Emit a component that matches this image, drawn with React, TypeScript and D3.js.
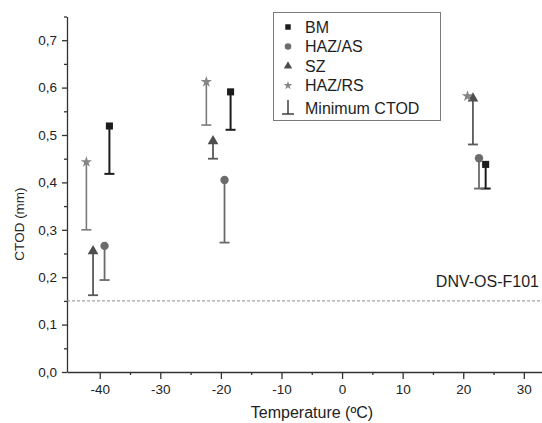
import React, { useRef, useEffect } from 'react'
import * as d3 from 'd3'

// CTOD values (mm) against test temperature (ºC)
const seriesNames = ['BM', 'HAZ/AS', 'SZ', 'HAZ/RS']
const bmTemp = [-38.4, -18.4, 23.7]
const bmCtod = [0.519, 0.591, 0.438]
const bmMin = [0.418, 0.511, 0.387]
const hazAsTemp = [-39.2, -19.4, 22.6]
const hazAsCtod = [0.266, 0.405, 0.451]
const hazAsMin = [0.194, 0.273, 0.387]
const szTemp = [-41.1, -21.3, 21.6]
const szCtod = [0.255, 0.487, 0.577]
const szMin = [0.162, 0.45, 0.48]
const hazRsTemp = [-42.2, -22.4, 20.7]
const hazRsCtod = [0.443, 0.612, 0.582]
const hazRsMin = [0.3, 0.521, null]
const xTicks = [-40, -30, -20, -10, 0, 10, 20, 30]
const xMinorTicks = [-35, -25, -15, -5, 5, 15, 25]
const yTicks = [0, 0.1, 0.2, 0.3, 0.4, 0.5, 0.6, 0.7]
const yMinorTicks = [0.05, 0.15, 0.25, 0.35, 0.45, 0.55, 0.65, 0.75]
const limitValue = 0.15
const limitLabel = 'DNV-OS-F101'

const FONT = '"Liberation Sans", Arial, Helvetica, sans-serif'

const App = () => {
    const svgRef = useRef<SVGSVGElement>(null)

    useEffect(() => {
        document.body.style.margin = '0'
        const svg = d3.select(svgRef.current)
        svg.selectAll('*').remove()

        const x = d3.scaleLinear().domain([-45.4, 33]).range([67, 542])
        const y = d3.scaleLinear().domain([0, 0.75]).range([372, 16.5])

        const series = [
            { name: seriesNames[0], temp: bmTemp, ctod: bmCtod, min: bmMin, shape: d3.symbolSquare, size: 50, color: '#1c1c1c', line: '#1c1c1c', lw: 2 },
            { name: seriesNames[1], temp: hazAsTemp, ctod: hazAsCtod, min: hazAsMin, shape: d3.symbolCircle, size: 55, color: '#6c6c6c', line: '#6a6a6a', lw: 1.8 },
            { name: seriesNames[2], temp: szTemp, ctod: szCtod, min: szMin, shape: d3.symbolTriangle, size: 50, color: '#4e4e4e', line: '#5a5a5a', lw: 1.8 },
            { name: seriesNames[3], temp: hazRsTemp, ctod: hazRsCtod, min: hazRsMin, shape: d3.symbolStar, size: 40, color: '#858585', line: '#7a7a7a', lw: 1.6 },
        ]

        //x axis
        const gx = svg.append('g').attr('transform', `translate(0, ${y(0)})`)
        gx.call(
            d3.axisBottom(x).tickValues(xTicks).tickSize(7).tickSizeOuter(0).tickPadding(5)
                .tickFormat((d) => String(d))
        )
        gx.append('g').call(d3.axisBottom(x).tickValues(xMinorTicks).tickSize(3).tickFormat(() => ''))
            .select('.domain').remove()
        gx.selectAll('text').style('font-size', '13.5px').style('font-family', FONT).attr('fill', '#222')
        gx.selectAll('path, line').attr('stroke', '#333').attr('stroke-width', 1.3)

        //y axis
        const gy = svg.append('g').attr('transform', `translate(${x.range()[0]}, 0)`)
        gy.call(
            d3.axisLeft(y).tickValues(yTicks).tickSize(5).tickSizeOuter(0).tickPadding(5)
                .tickFormat((d) => d3.format('.1f')(d as number).replace('.', ','))
        )
        gy.append('g').call(d3.axisLeft(y).tickValues(yMinorTicks).tickSize(3).tickFormat(() => ''))
            .select('.domain').remove()
        gy.selectAll('text').style('font-size', '13.5px').style('font-family', FONT).attr('fill', '#222')
        gy.selectAll('path, line').attr('stroke', '#333').attr('stroke-width', 1.3)

        //axis titles
        svg.append('text')
            .attr('x', 312).attr('y', 418)
            .attr('text-anchor', 'middle')
            .style('font-family', FONT).style('font-size', '16px').attr('fill', '#222')
            .text('Temperature (ºC)')
        svg.append('text')
            .attr('transform', `translate(24, ${224}) rotate(-90)`)
            .attr('text-anchor', 'middle')
            .style('font-family', FONT).style('font-size', '13.5px').attr('fill', '#222')
            .text('CTOD (mm)')

        //limit line
        svg.append('line')
            .attr('x1', x.range()[0]).attr('x2', x.range()[1])
            .attr('y1', y(limitValue)).attr('y2', y(limitValue))
            .attr('stroke', '#8a8a8a').attr('stroke-width', 1).attr('stroke-dasharray', '3,2')
        svg.append('text')
            .attr('x', 539).attr('y', 287)
            .attr('text-anchor', 'end')
            .style('font-family', FONT).style('font-size', '16px').attr('fill', '#1e1e1e')
            .text(limitLabel)

        //minimum CTOD bars and markers
        series.forEach((s) => {
            s.temp.forEach((t, i) => {
                const m = s.min[i]
                if (m == null) return
                const cx = x(t)
                svg.append('line')
                    .attr('x1', cx).attr('x2', cx)
                    .attr('y1', y(s.ctod[i])).attr('y2', y(m))
                    .attr('stroke', s.line).attr('stroke-width', s.lw)
                svg.append('line')
                    .attr('x1', cx - 5).attr('x2', cx + 5)
                    .attr('y1', y(m)).attr('y2', y(m))
                    .attr('stroke', s.line).attr('stroke-width', s.lw)
            })
        })
        series.forEach((s) => {
            svg.append('g').selectAll('path')
                .data(s.temp)
                .enter()
                .append('path')
                .attr('transform', (t, i) => `translate(${x(t)}, ${y(s.ctod[i])})`)
                .attr('d', d3.symbol().type(s.shape).size(s.size)())
                .attr('fill', s.color)
        })

        //legend
        const lg = svg.append('g')
        lg.append('rect')
            .attr('x', 273.5).attr('y', 12.5).attr('width', 167).attr('height', 108)
            .attr('fill', 'white').attr('stroke', '#7a7a7a').attr('stroke-width', 1)
        series.forEach((s, i) => {
            const ly = 27 + i * 19.5
            lg.append('path')
                .attr('transform', `translate(288, ${ly})`)
                .attr('d', d3.symbol().type(s.shape).size(s.size * 0.6)())
                .attr('fill', s.color)
            lg.append('text')
                .attr('x', 305).attr('y', ly)
                .attr('dominant-baseline', 'central')
                .style('font-family', FONT).style('font-size', '16px').attr('fill', '#1e1e1e')
                .text(s.name)
        })
        const my = 108
        lg.append('line').attr('x1', 288).attr('x2', 288).attr('y1', my - 8).attr('y2', my + 6)
            .attr('stroke', '#333').attr('stroke-width', 1.4)
        lg.append('line').attr('x1', 282).attr('x2', 294).attr('y1', my + 6).attr('y2', my + 6)
            .attr('stroke', '#333').attr('stroke-width', 1.4)
        lg.append('text')
            .attr('x', 305).attr('y', my)
            .attr('dominant-baseline', 'central')
            .style('font-family', FONT).style('font-size', '16px').attr('fill', '#1e1e1e')
            .text('Minimum CTOD')
    }, [])

    return (
        <svg
            ref={svgRef}
            width={542}
            height={423}
            style={{ position: 'absolute', left: 0, top: 0, background: 'white' }}
        />
    )
}

export default App
